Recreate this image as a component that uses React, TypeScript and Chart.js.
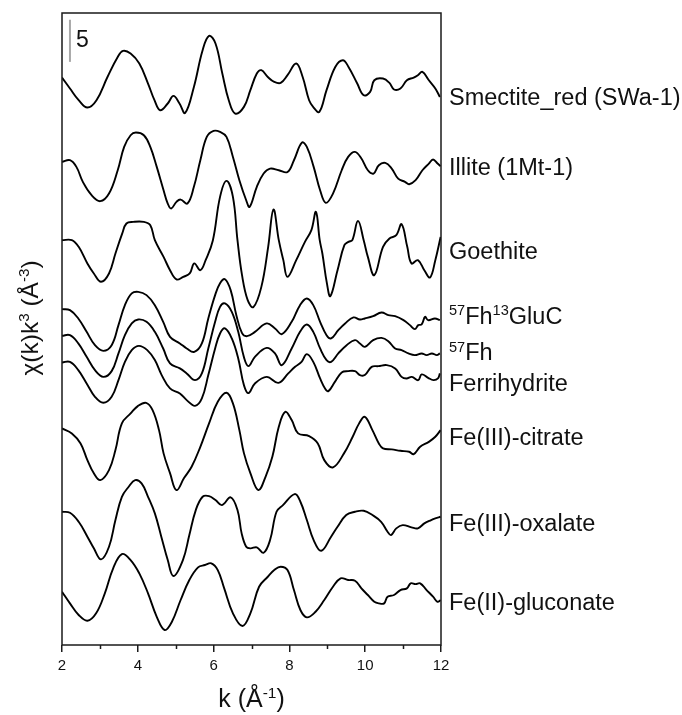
import React, { useEffect, useRef } from 'react';
import { Chart, registerables } from 'chart.js';
Chart.register(...registerables);

// ---- data: k (Å^-1) and chi(k)k^3 values for each spectrum ----
const smectiteK = [2.00,2.21,2.44,2.67,2.91,3.20,3.47,3.61,3.81,4.04,4.27,4.44,4.59,4.79,4.94,5.10,5.25,5.48,5.71,5.88,6.05,6.23,6.40,6.57,6.80,6.97,7.14,7.26,7.43,7.60,7.77,7.95,8.18,8.35,8.52,8.64,8.79,8.98,9.21,9.41,9.56,9.79,9.96,10.13,10.24,10.47,10.64,10.76,10.93,11.10,11.28,11.39,11.51,11.68,11.85,11.97];
const smectiteChi = [1.34,0.04,-1.35,-2.22,-1.35,1.41,3.79,4.50,4.19,3.00,0.63,-1.35,-2.54,-1.74,-0.84,-1.74,-2.86,0.23,4.58,6.28,5.38,1.82,-1.35,-2.93,-2.14,-0.16,1.82,2.21,1.41,0.82,0.70,1.62,3.00,1.41,-1.35,-2.22,-2.74,-0.16,2.60,3.40,2.60,0.63,-0.76,-0.36,1.02,1.22,0.70,-0.08,0.04,1.02,1.34,1.62,2.01,1.02,0.04,-0.96];

const illiteK = [2.00,2.21,2.38,2.55,2.78,3.01,3.24,3.47,3.64,3.81,3.95,4.16,4.33,4.50,4.68,4.79,4.88,5.02,5.13,5.31,5.48,5.65,5.82,6.00,6.17,6.34,6.51,6.68,6.86,6.95,7.14,7.32,7.49,7.72,7.95,8.12,8.33,8.46,8.64,8.81,8.96,9.15,9.38,9.55,9.73,9.90,10.07,10.22,10.36,10.53,10.70,10.87,11.05,11.16,11.33,11.51,11.68,11.79,11.91,11.99];
const illiteChi = [1.33,1.53,0.74,-1.04,-2.62,-3.33,-2.43,0.34,3.11,4.49,4.81,4.49,3.11,0.74,-2.03,-3.61,-4.20,-3.41,-3.14,-3.61,-1.63,1.53,4.30,5.01,4.89,4.30,1.92,-0.84,-3.22,-4.01,-1.63,-0.05,0.54,0.34,0.14,1.53,3.62,3.11,0.74,-2.03,-3.53,-2.43,0.34,1.92,2.52,1.73,0.34,-0.05,0.94,1.21,0.54,-0.65,-1.04,-1.32,-0.84,0.34,1.13,1.61,1.13,0.82];

const goethiteK = [2.00,2.26,2.44,2.67,2.84,3.03,3.24,3.41,3.59,3.70,3.88,4.16,4.33,4.45,4.68,4.85,5.02,5.20,5.37,5.49,5.65,5.79,5.98,6.17,6.34,6.51,6.63,6.75,6.90,7.05,7.26,7.44,7.58,7.72,7.84,7.95,8.18,8.41,8.58,8.70,8.80,8.87,8.99,9.08,9.27,9.45,9.56,9.66,9.81,9.96,10.07,10.24,10.47,10.64,10.82,10.96,11.11,11.22,11.39,11.56,11.71,11.85,11.99];
const goethiteChi = [1.04,1.04,0.25,-1.72,-2.91,-3.90,-2.91,-0.54,1.84,3.02,3.21,3.21,2.82,1.04,-0.94,-2.52,-3.62,-3.31,-2.91,-1.72,-2.52,-1.33,1.00,6.18,8.08,6.18,1.04,-3.11,-6.08,-6.90,-4.50,0.25,4.68,1.04,-1.33,-3.31,-1.33,0.84,2.23,4.40,1.04,-0.54,-4.09,-5.60,-2.52,0.45,0.84,1.04,3.33,1.04,-0.94,-3.11,0.25,1.24,1.63,2.94,0.25,-1.72,-1.33,-2.52,-3.38,-1.33,1.43];

const fhGlucK = [2.00,2.21,2.43,2.65,2.87,3.09,3.31,3.49,3.66,3.84,4.01,4.23,4.45,4.67,4.85,5.11,5.29,5.49,5.69,5.86,6.04,6.17,6.30,6.45,6.60,6.75,6.88,7.09,7.40,7.62,7.80,8.06,8.28,8.46,8.63,8.81,8.98,9.10,9.29,9.47,9.69,9.86,9.99,10.21,10.43,10.61,10.79,11.01,11.18,11.31,11.40,11.49,11.58,11.66,11.84,11.97];
const fhGlucChi = [0.86,0.74,-0.25,-1.84,-3.42,-4.09,-3.42,-1.04,1.33,2.72,2.91,2.52,1.33,-0.65,-2.43,-3.21,-3.81,-4.21,-3.21,-0.25,2.52,3.94,4.41,3.11,0.14,-1.99,-2.35,-1.84,-0.84,-1.43,-2.11,-0.65,1.33,2.12,1.33,-0.65,-2.23,-2.62,-1.64,-0.84,-0.13,-0.37,-0.25,0.02,0.46,0.14,0.02,-0.45,-1.04,-1.52,-1.04,-0.96,-0.06,-0.45,-0.25,-0.45];

const fh57K = [2.00,2.21,2.43,2.65,2.87,3.09,3.31,3.49,3.66,3.84,4.01,4.23,4.45,4.67,4.85,5.11,5.29,5.51,5.69,5.86,6.04,6.17,6.30,6.48,6.65,6.80,6.92,7.09,7.40,7.62,7.80,8.06,8.28,8.46,8.63,8.81,8.98,9.10,9.29,9.51,9.73,9.86,9.99,10.21,10.43,10.61,10.79,10.96,11.14,11.31,11.49,11.62,11.76,11.89,11.97];
const fh57Chi = [1.69,1.77,0.79,-0.80,-2.38,-3.18,-2.50,-0.40,1.77,3.16,3.63,3.35,2.16,0.19,-1.59,-2.18,-2.77,-3.57,-2.77,0.19,3.35,5.13,5.53,4.53,2.16,-0.84,-1.91,-0.80,0.26,-0.40,-1.79,0.19,2.16,3.04,2.16,0.19,-1.19,-1.40,-0.40,0.58,1.18,0.79,0.38,1.18,1.45,1.06,0.19,-0.01,-0.40,-0.60,-0.40,-0.60,-0.40,-0.60,-0.40];

const ferrihydriteK = [2.00,2.21,2.43,2.65,2.87,3.09,3.31,3.49,3.66,3.84,4.03,4.25,4.45,4.63,4.85,5.11,5.29,5.51,5.69,5.86,6.04,6.17,6.30,6.48,6.65,6.80,6.92,7.09,7.40,7.71,7.97,8.15,8.32,8.46,8.63,8.81,8.94,9.03,9.20,9.38,9.55,9.73,9.86,9.99,10.17,10.35,10.57,10.79,10.96,11.09,11.23,11.40,11.49,11.66,11.80,11.92,11.97];
const ferrihydriteChi = [1.53,1.60,0.62,-0.96,-2.55,-3.26,-2.55,-0.57,1.60,2.99,3.50,2.99,1.81,0.03,-1.55,-2.15,-2.94,-3.62,-2.74,0.03,3.19,4.97,5.57,4.38,2.01,-1.16,-2.11,-0.96,-0.18,-0.89,0.23,1.01,1.60,2.52,1.60,-0.37,-1.55,-1.87,-0.77,0.35,0.50,0.50,0.03,0.03,1.01,1.09,1.21,0.82,-0.18,-0.37,-0.18,-0.57,0.11,-0.29,-0.57,-0.37,0.23];

const citrateK = [2.00,2.26,2.49,2.67,2.84,3.01,3.24,3.41,3.58,3.81,4.00,4.22,4.39,4.56,4.68,4.85,5.02,5.22,5.42,5.65,5.88,6.11,6.34,6.51,6.68,6.80,6.97,7.18,7.37,7.55,7.72,7.89,8.06,8.23,8.52,8.75,8.92,9.15,9.44,9.67,9.84,9.99,10.19,10.36,10.47,10.70,10.93,11.16,11.28,11.45,11.68,11.85,11.99];
const citrateChi = [1.70,1.11,-0.08,-2.06,-3.63,-4.43,-3.24,-0.87,2.30,3.48,4.35,4.74,3.87,1.50,-1.26,-3.60,-5.62,-4.19,-2.85,-0.48,2.30,4.86,5.93,4.67,1.50,-1.23,-3.60,-5.62,-4.04,-1.67,1.89,3.67,2.69,1.11,0.79,-0.08,-2.06,-2.92,-1.26,0.71,2.30,3.08,1.50,-0.08,-0.67,-0.79,-0.95,-1.07,-1.35,-0.48,0.11,0.71,1.50];

const oxalateK = [2.00,2.21,2.44,2.67,2.84,3.03,3.24,3.41,3.58,3.76,3.93,4.10,4.27,4.45,4.62,4.79,4.94,5.19,5.36,5.53,5.71,5.88,6.05,6.22,6.45,6.63,6.74,6.86,6.97,7.14,7.32,7.49,7.66,7.83,8.14,8.29,8.46,8.64,8.84,9.10,9.27,9.50,9.73,9.96,10.19,10.42,10.59,10.68,10.82,10.99,11.22,11.39,11.56,11.74,11.85,11.99];
const oxalateChi = [0.81,0.69,-0.38,-2.15,-3.53,-4.84,-3.34,-0.17,2.59,3.78,4.57,4.18,2.59,0.62,-2.15,-4.92,-6.82,-4.92,-1.95,1.01,2.59,2.67,2.20,1.60,2.52,1.01,-1.75,-3.34,-3.53,-3.41,-4.05,-2.55,0.81,1.60,2.91,2.00,-0.17,-2.55,-3.82,-2.15,-0.97,0.42,0.81,0.93,0.42,-0.38,-1.56,-1.95,-1.16,-0.77,-1.04,-1.16,-0.57,-0.17,0.03,0.22];

const gluconateK = [2.00,2.21,2.44,2.67,2.90,3.13,3.35,3.58,3.81,4.04,4.27,4.50,4.71,4.90,5.13,5.36,5.59,5.77,5.94,6.11,6.28,6.51,6.76,6.97,7.20,7.43,7.60,7.77,7.95,8.12,8.29,8.46,8.69,8.92,9.15,9.35,9.55,9.73,9.90,10.07,10.24,10.36,10.50,10.59,10.76,10.93,11.10,11.20,11.33,11.45,11.62,11.79,11.91,11.99];
const gluconateChi = [0.32,-1.06,-2.44,-3.12,-2.24,0.13,3.10,4.79,4.08,2.50,0.13,-2.65,-4.22,-3.24,-0.66,1.71,3.21,3.49,3.69,2.89,0.72,-2.24,-3.75,-2.24,0.91,2.10,2.89,3.29,2.89,0.52,-1.85,-2.72,-2.05,-0.66,0.91,1.91,1.71,1.63,0.72,-0.07,-0.87,-1.06,-1.06,-0.27,-0.07,0.52,0.72,1.32,1.23,1.32,0.52,-0.27,-0.87,-0.66];

const seriesNames = ['Smectite_red (SWa-1)', 'Illite (1Mt-1)', 'Goethite', '^{57}Fh^{13}GluC', '^{57}Fh', 'Ferrihydrite', 'Fe(III)-citrate', 'Fe(III)-oxalate', 'Fe(II)-gluconate'];
const seriesK = [smectiteK, illiteK, goethiteK, fhGlucK, fh57K, ferrihydriteK, citrateK, oxalateK, gluconateK];
const seriesChi = [smectiteChi, illiteChi, goethiteChi, fhGlucChi, fh57Chi, ferrihydriteChi, citrateChi, oxalateChi, gluconateChi];
const stackOffsets = [66, 56, 47, 39, 35, 32, 24, 15, 6];
const labelLevels = [65.1, 56.8, 46.8, 39.15, 34.8, 31.1, 24.7, 14.5, 5.1];

const kMin = 2;
const kMax = 12;
const majorTicks = [2, 4, 6, 8, 10, 12];
const minorTicks = [3, 5, 7, 9, 11];
const yMin = 0;
const yMax = 75;
const scaleBarK = 2.21;
const scaleBarBase = 69.2;
const scaleBarLength = 5;

const FONT = '"Liberation Sans", Arial, sans-serif';

function parseRich(s: string): [string, boolean][] {
  const out: [string, boolean][] = [];
  const re = /\^\{([^}]*)\}|[^^]+/g;
  let m: RegExpExecArray | null;
  while ((m = re.exec(s)) !== null) {
    if (m[1] !== undefined) out.push([m[1], true]);
    else out.push([m[0], false]);
  }
  return out;
}

function drawRich(ctx: CanvasRenderingContext2D, parts: [string, boolean][], x: number, y: number, size: number, align: 'left' | 'center') {
  const sup = size * 0.62;
  let w = 0;
  const widths: number[] = [];
  for (const [t, s] of parts) {
    ctx.font = `${s ? sup : size}px ${FONT}`;
    const ww = ctx.measureText(t).width;
    widths.push(ww);
    w += ww;
  }
  let cx = align === 'center' ? x - w / 2 : x;
  ctx.textAlign = 'left';
  ctx.textBaseline = 'alphabetic';
  parts.forEach(([t, s], i) => {
    ctx.font = `${s ? sup : size}px ${FONT}`;
    ctx.fillText(t, cx, s ? y - size * 0.36 : y);
    cx += widths[i];
  });
}

const overlayPlugin = {
  id: 'overlay',
  afterDraw(chart: any) {
    const { ctx, chartArea: a, scales } = chart;
    const xs = scales.x;
    const ys = scales.y;
    ctx.save();
    ctx.strokeStyle = '#1a1a1a';
    ctx.lineWidth = 1.5;
    ctx.strokeRect(a.left, a.top, a.right - a.left, a.bottom - a.top);
    for (const m of minorTicks) {
      const px = Math.round(xs.getPixelForValue(m)) + 0.5;
      ctx.beginPath();
      ctx.moveTo(px, a.bottom);
      ctx.lineTo(px, a.bottom + 4);
      ctx.stroke();
    }
    ctx.fillStyle = '#111';
    // series labels
    seriesNames.forEach((name, i) => {
      const py = ys.getPixelForValue(labelLevels[i]);
      drawRich(ctx, parseRich(name), a.right + 8, py + 23.5 * 0.36, 23.5, 'left');
    });
    // scale bar label
    const barMid = ys.getPixelForValue(scaleBarBase + scaleBarLength * 0.55);
    drawRich(ctx, [['5', false]], xs.getPixelForValue(scaleBarK) + 6, barMid + 23 * 0.36, 23, 'left');
    // x title
    drawRich(ctx, [['k (Å', false], ['-1', true], [')', false]], (a.left + a.right) / 2, 707, 25, 'center');
    // y title
    ctx.translate(38, (a.top + a.bottom) / 2 - 11);
    ctx.rotate(-Math.PI / 2);
    drawRich(ctx, [['χ(k)k', false], ['3', true], [' (Å', false], ['-3', true], [')', false]], 0, 0, 24.5, 'center');
    ctx.restore();
  },
};

export default function App() {
  const ref = useRef<HTMLCanvasElement>(null);
  useEffect(() => {
    document.body.style.margin = '0';
    const datasets: any[] = seriesK.map((ks, i) => ({
      label: seriesNames[i],
      data: ks.map((k, j) => ({ x: k, y: seriesChi[i][j] + stackOffsets[i] })),
      borderColor: '#000',
      borderWidth: 1.9,
      pointRadius: 0,
      fill: false,
      tension: 0.4,
    }));
    datasets.push({
      label: 'scale',
      data: [
        { x: scaleBarK, y: scaleBarBase },
        { x: scaleBarK, y: scaleBarBase + scaleBarLength },
      ],
      borderColor: '#a8a8a8',
      borderWidth: 2,
      pointRadius: 0,
      tension: 0,
    });
    const chart = new Chart(ref.current as HTMLCanvasElement, {
      type: 'line',
      data: { datasets },
      options: {
        animation: false,
        responsive: false,
        devicePixelRatio: 1,
        layout: { padding: { top: 13, right: 241, left: 0, bottom: 0 } },
        plugins: { legend: { display: false }, tooltip: { enabled: false } },
        scales: {
          x: {
            type: 'linear',
            min: kMin,
            max: kMax,
            afterFit: (s: any) => { s.height = 70; },
            afterBuildTicks: (s: any) => { s.ticks = majorTicks.map((v) => ({ value: v })); },
            ticks: { color: '#111', font: { size: 15, family: FONT }, padding: 5, maxRotation: 0 },
            grid: { display: true, drawOnChartArea: false, drawTicks: true, tickLength: 7, color: '#1a1a1a', lineWidth: 1.5 },
            border: { display: false },
          },
          y: {
            type: 'linear',
            min: yMin,
            max: yMax,
            afterFit: (s: any) => { s.width = 62; },
            ticks: { display: false },
            grid: { display: false },
            border: { display: false },
          },
        },
      },
      plugins: [overlayPlugin],
    } as any);
    return () => chart.destroy();
  }, []);
  return <canvas ref={ref} width={682} height={715} style={{ display: 'block', width: 682, height: 715 }} />;
}
